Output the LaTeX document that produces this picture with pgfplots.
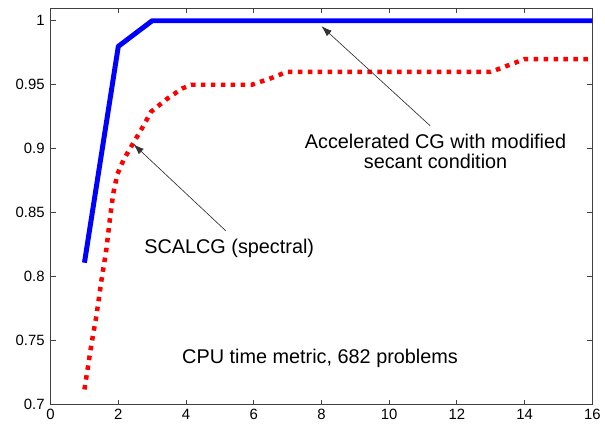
\documentclass[border=0pt]{standalone}
\usepackage{fontspec}
\setmainfont{Liberation Sans}
\usepackage{pgfplots}
\pgfplotsset{compat=1.18}
\usetikzlibrary{arrows.meta}
\begin{document}
\begin{tikzpicture}
\begin{axis}[
  at={(0,0)}, anchor=south west,
  scale only axis, width=409.5pt, height=300pt,
  xmin=0, xmax=16, ymin=0.7, ymax=1.01,
  xtick={0,2,...,16}, ytick={0.7,0.75,0.8,0.85,0.9,0.95,1},
  yticklabels={0.7,0.75,0.8,0.85,0.9,0.95,1},
  tick align=inside, major tick length=3.75pt,
  axis line style={black!75, line width=0.6pt},
  tick style={black!75, line width=0.6pt},
  /pgf/number format/assume math mode=true,
  tick label style={font=\fontsize{11.25}{13}\selectfont, black},
  yticklabel style={xshift=-1pt},
  clip=false,
]
\addplot[blue, line width=3.75pt, line join=round] coordinates {
 (1,0.811) (2,0.98) (2.3,0.986) (3,1.0) (16,1.0)
};
\addplot[red, line width=3.4pt, dash pattern=on 3.4pt off 4.1pt, line join=round] coordinates {
 (1,0.712) (1.21,0.748) (1.35,0.769) (1.5,0.797) (1.65,0.822) (1.75,0.845)
 (1.85,0.865) (1.97,0.880) (2.15,0.891) (2.32,0.899) (2.7,0.916) (2.97,0.929)
 (3.44,0.939) (3.88,0.947) (4.15,0.95) (5.94,0.95) (6.5,0.955) (6.97,0.96)
 (13.0,0.96) (13.5,0.965) (14.0,0.97) (16,0.97)
};
\draw[black!80, line width=0.5pt, -{Latex[length=8pt,width=5.5pt]}] (axis cs:11.21,0.918) -- (axis cs:8.0,0.9957);
\draw[black!80, line width=0.5pt, -{Latex[length=8pt,width=5.5pt]}] (axis cs:5.17,0.836) -- (axis cs:2.45,0.9035);
\node[anchor=base, inner sep=0pt, font=\fontsize{15}{18}\selectfont] at (axis cs:11.37,0.9004) {Accelerated CG with modified};
\node[anchor=base, inner sep=0pt, font=\fontsize{15}{18}\selectfont] at (axis cs:11.37,0.8849) {secant condition};
\node[anchor=base west, inner sep=0pt, font=\fontsize{15}{18}\selectfont] at (axis cs:2.76,0.818) {SCALCG (spectral)};
\node[anchor=base west, inner sep=0pt, font=\fontsize{15}{18}\selectfont] at (axis cs:3.88,0.732) {CPU time metric, 682 problems};
\end{axis}
\path[use as bounding box] (-38.25pt,-18pt) rectangle (415.5pt,306pt);
\end{tikzpicture}
\end{document}
